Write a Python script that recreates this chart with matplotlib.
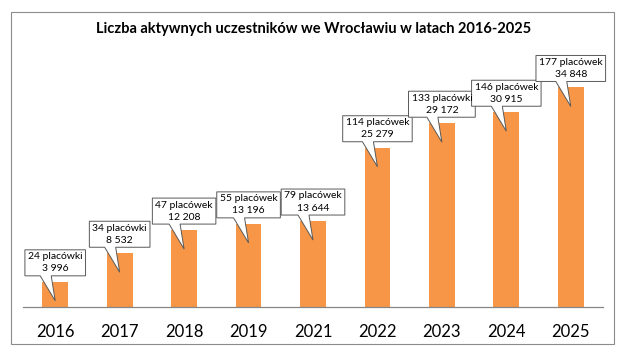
import matplotlib
matplotlib.use('Agg')
import matplotlib.pyplot as plt
from matplotlib.patches import Polygon, Rectangle
from matplotlib.transforms import IdentityTransform

years = ['2016', '2017', '2018', '2019', '2021', '2022', '2023', '2024', '2025']
participants = [3996, 8532, 12208, 13196, 13644, 25279, 29172, 30915, 34848]
facilities = ['24 placówki', '34 placówki', '47 placówek', '55 placówek', '79 placówek',
              '114 placówek', '133 placówki', '146 placówek', '177 placówek']
value_labels = ['3 996', '8 532', '12 208', '13 196', '13 644', '25 279', '29 172', '30 915', '34 848']

plt.rcParams['font.family'] = ['Lato', 'DejaVu Sans']

fig = plt.figure(figsize=(6.3, 3.56), dpi=100)
ax = fig.add_axes([23 / 630, 49 / 356, 580 / 630, 252 / 356])

x = list(range(len(years)))
ax.bar(x, participants, width=0.4, color='#F79646', zorder=2)
ax.set_xlim(-0.5, len(years) - 0.5)
ax.set_ylim(0, 40000)
ax.set_xticks(x)
ax.set_xticklabels(years, fontsize=12)
ax.tick_params(axis='x', length=0, pad=12)
ax.set_yticks([])
for side in ['top', 'right', 'left']:
    ax.spines[side].set_visible(False)
ax.spines['bottom'].set_color('#868686')
ax.spines['bottom'].set_linewidth(0.9)

fig.text(0.498, (356 - 29) / 356, 'Liczba aktywnych uczestników we Wrocławiu w latach 2016-2025',
         ha='center', va='center', fontsize=10.5, fontweight='bold')

# outer frame
fig.add_artist(Rectangle((11 / 630, 12 / 356), 603 / 630, 332 / 356, transform=fig.transFigure,
                         fill=False, edgecolor='#8C8C8C', linewidth=0.8))

# callout labels
texts = []
for i, v in enumerate(participants):
    t = ax.annotate(facilities[i] + '\n' + value_labels[i], xy=(i, v), xytext=(0, 19),
                    textcoords='offset pixels', ha='center', va='center', fontsize=7.5,
                    multialignment='center', linespacing=1.45, zorder=6)
    texts.append(t)

fig.canvas.draw()
renderer = fig.canvas.get_renderer()
for i, v in enumerate(participants):
    bb = texts[i].get_window_extent(renderer)
    px, py = ax.transData.transform((i, v))
    w = bb.width + 6
    left, right = px - w / 2, px + w / 2
    bottom, top = py + 6, py + 32
    tip = (px, py - 19)
    verts = [(left, bottom), (px - 15, bottom), tip, (px - 4, bottom),
             (right, bottom), (right, top), (left, top)]
    ax.add_patch(Polygon(verts, closed=True, transform=IdentityTransform(), facecolor='white',
                         edgecolor='#595959', linewidth=0.7, clip_on=False, zorder=5))

fig.savefig('out.png', dpi=100)
